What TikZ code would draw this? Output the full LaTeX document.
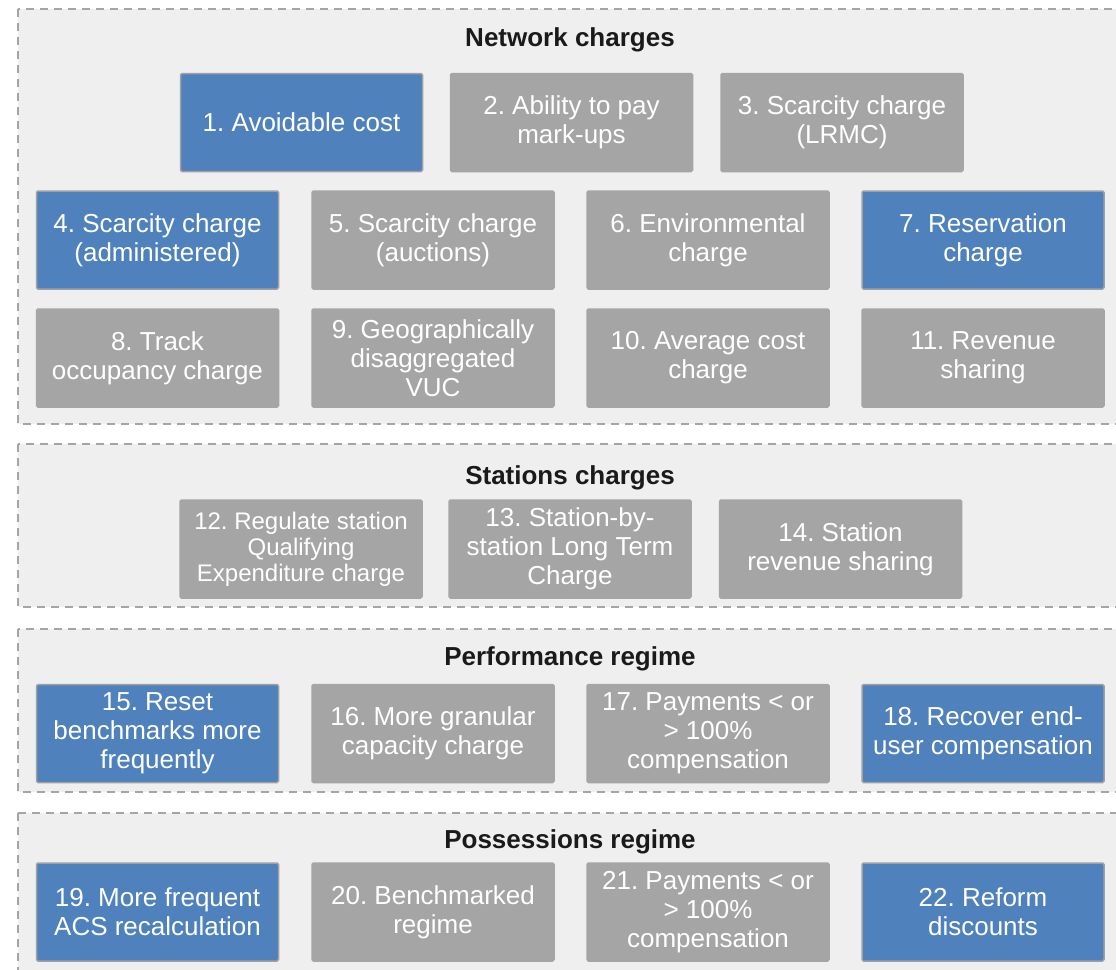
\documentclass[tikz,border=0pt]{standalone}
\usepackage{fontspec}
\setmainfont{Liberation Sans}
\frenchspacing
\definecolor{panelbg}{HTML}{EFEFEF}
\definecolor{dashgray}{HTML}{A5A5A5}
\definecolor{edgegray}{HTML}{A0A0A0}
\definecolor{itemblue}{HTML}{4F81BD}
\definecolor{itemgray}{HTML}{A5A5A5}
\definecolor{titleblack}{HTML}{1A1A1A}
\tikzset{
  panel/.style={fill=panelbg, draw=dashgray, line width=1.6pt, dash pattern=on 8pt off 6pt},
  item/.style={rounded corners=1.5pt, minimum width=242pt, minimum height=98pt,
    align=center, text=white, inner sep=0pt, line width=1.5pt,
    font=\fontsize{26}{29}\selectfont},
  blueitem/.style={item, fill=itemblue, draw=edgegray},
  grayitem/.style={item, fill=itemgray, draw=itemgray},
  heading/.style={anchor=base, text=titleblack, inner sep=0pt,
    font=\bfseries\fontsize{26}{30}\selectfont}
}
\begin{document}
\begin{tikzpicture}[x=1pt, y=-1pt]
\useasboundingbox (0,0) rectangle (1116,969);
\clip (0,0) rectangle (1116,969);
\fill[white] (0,0) rectangle (1116,969);

% group panels
\draw[panel] (18,9) rectangle (1130,424);
\draw[panel] (18,444) rectangle (1130,607);
\draw[panel] (18,629) rectangle (1130,792);
\draw[panel] (18,813) rectangle (1130,1000);

% network charges
\node[heading] (hnet) at (570,46) {Network charges};
\node[blueitem] (n1) at (301.5,122.5) {1. Avoidable cost};
\node[grayitem] (n2) at (571.5,122.5) {2. Ability to pay\\mark-ups};
\node[grayitem] (n3) at (842,122.5) {3. Scarcity charge\\(LRMC)};
\node[blueitem] (n4) at (157.5,240) {4. Scarcity charge\\(administered)};
\node[grayitem] (n5) at (433,240) {5. Scarcity charge\\(auctions)};
\node[grayitem] (n6) at (708,240) {6. Environmental\\charge};
\node[blueitem] (n7) at (983,240) {7. Reservation\\charge};
\node[grayitem] (n8) at (157.5,358) {8. Track\\occupancy charge};
\node[grayitem] (n9) at (433,358) {9. Geographically\\disaggregated\\VUC};
\node[grayitem] (n10) at (708,358) {10. Average cost\\charge};
\node[grayitem] (n11) at (983,358) {11. Revenue\\sharing};

% stations charges
\node[heading] (hsta) at (570,484) {Stations charges};
\node[grayitem, font=\fontsize{24}{26}\selectfont] (n12) at (301,549) {12. Regulate station\\Qualifying\\Expenditure charge};
\node[grayitem] (n13) at (570,549) {13. Station-by-\\station Long Term\\Charge};
\node[grayitem] (n14) at (840.5,549) {14. Station\\revenue sharing};

% performance regime
\node[heading] (hperf) at (570,665) {Performance regime};
\node[blueitem] (n15) at (157.5,733.5) {15. Reset\\benchmarks more\\frequently};
\node[grayitem] (n16) at (433,733.5) {16. More granular\\capacity charge};
\node[grayitem] (n17) at (708,733.5) {17. Payments < or\\> 100\%\\compensation};
\node[blueitem] (n18) at (983,733.5) {18. Recover end-\\user compensation};

% possessions regime
\node[heading] (hposs) at (570,848) {Possessions regime};
\node[blueitem] (n19) at (157.5,912) {19. More frequent\\ACS recalculation};
\node[grayitem] (n20) at (433,912) {20. Benchmarked\\regime};
\node[grayitem] (n21) at (708,912) {21. Payments < or\\> 100\%\\compensation};
\node[blueitem] (n22) at (983,912) {22. Reform\\discounts};
\end{tikzpicture}
\end{document}
